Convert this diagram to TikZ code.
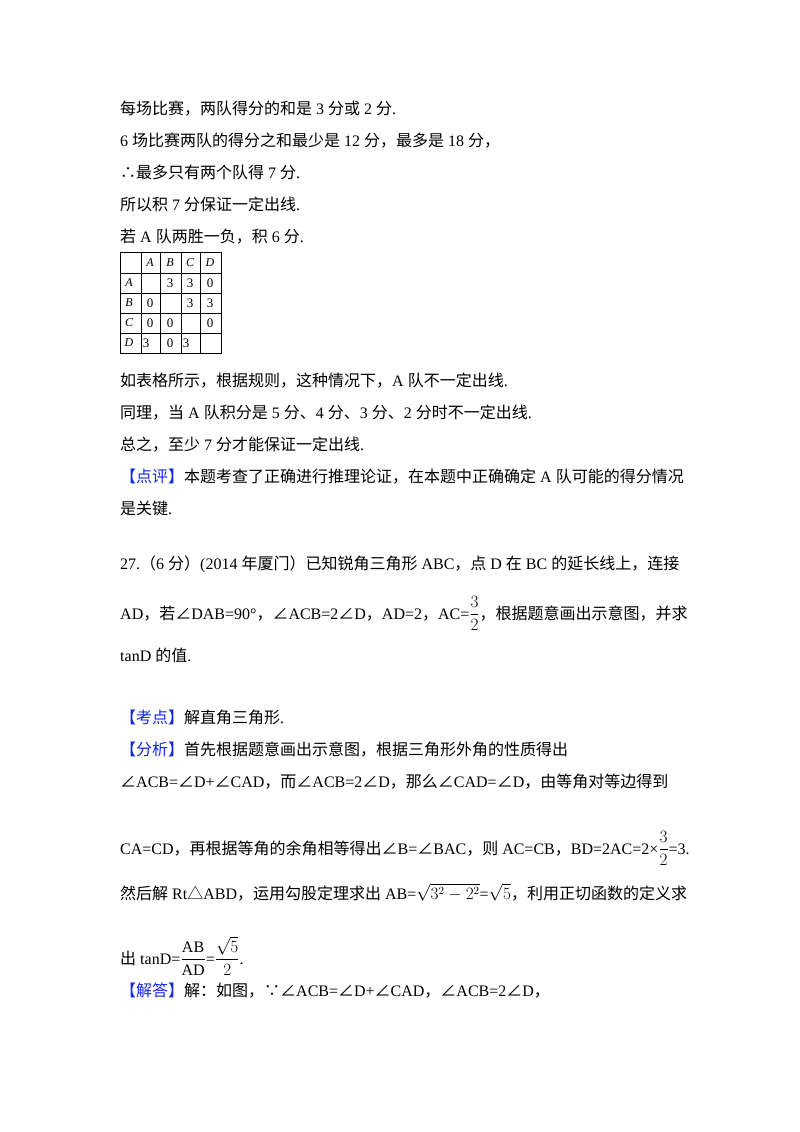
\documentclass[tikz,border=0pt]{standalone}
\usepackage{amsmath}
\usepackage{fontspec}
\setmainfont{Liberation Serif}
\newfontfamily\cjk{Noto Sans CJK SC}
\newcommand\C[1]{{\cjk #1}}
\newcommand\ang{{\cjk ∠}}
\newcommand\tri{{\cjk △}}
\definecolor{tagblue}{RGB}{20,40,230}
\begin{document}
\begin{tikzpicture}[x=1pt,y=-1pt,
  ln/.style={anchor=base west,inner sep=0pt,font=\fontsize{16}{19}\selectfont},
  cell/.style={inner sep=0pt,font=\fontsize{12}{14}\selectfont\itshape}]
\useasboundingbox (0,0) rectangle (800,1132);
\node[ln] (l1) at (120,114) {\C{每场比赛，两队得分的和是} 3 \C{分或} 2 \C{分}.};
\node[ln] (l2) at (120,146) {6 \C{场比赛两队的得分之和最少是} 12 \C{分，最多是} 18 \C{分，}};
\node[ln] (l3) at (120,178) {\C{∴最多只有两个队得} 7 \C{分}.};
\node[ln] (l4) at (120,210) {\C{所以积} 7 \C{分保证一定出线}.};
\node[ln] (l5) at (120,242) {\C{若} A \C{队两胜一负，积} 6 \C{分}.};
% table
\draw[line width=0.6pt] (120,252) rectangle (221,353);
\foreach \x in {141,160,181,200} \draw[line width=0.6pt] (\x,252) -- (\x,353);
\foreach \y in {273,293,313,333} \draw[line width=0.6pt] (120,\y) -- (221,\y);
\node[cell] (hA) at (150,263) {A}; \node[cell] (hB) at (170,263) {B};
\node[cell] (hC) at (190,263) {C}; \node[cell] (hD) at (210,263) {D};
\node[cell] (rA) at (129,283) {A}; \node[cell] (rB) at (129,303) {B};
\node[cell] (rC) at (129,323) {C}; \node[cell] (rD) at (129,343) {D};
\begin{scope}[every node/.style={inner sep=0pt,font=\fontsize{13}{14}\selectfont}]
\node (a2) at (170,283) {3}; \node (a3) at (190,283) {3}; \node (a4) at (210,283) {0};
\node (b1) at (150,303) {0}; \node (b3) at (190,303) {3}; \node (b4) at (210,303) {3};
\node (c1) at (150,323) {0}; \node (c2) at (170,323) {0}; \node (c4) at (210,323) {0};
\node (d1) at (146,343) {3}; \node (d2) at (170,343) {0}; \node (d3) at (186,343) {3};
\end{scope}
\node[ln] (l6) at (120,386) {\C{如表格所示，根据规则，这种情况下，}A \C{队不一定出线}.};
\node[ln] (l7) at (120,418) {\C{同理，当} A \C{队积分是} 5 \C{分、}4 \C{分、}3 \C{分、}2 \C{分时不一定出线}.};
\node[ln] (l8) at (120,450) {\C{总之，至少} 7 \C{分才能保证一定出线}.};
\node[ln] (l9) at (120,482) {{\color{tagblue}\C{【点评】}}\C{本题考查了正确进行推理论证，在本题中正确确定} A \C{队可能的得分情况}};
\node[ln] (l10) at (120,514) {\C{是关键}.};
\node[ln] (l11) at (120,569) {27.\C{（}6 \C{分）}(2014 \C{年厦门）已知锐角三角形} ABC\C{，点} D \C{在} BC \C{的延长线上，连接}};
\node[ln] (l12) at (120,619) {AD\C{，若}\ang DAB=90°\C{，}\ang ACB=2\ang D\C{，}AD=2\C{，}AC=$\dfrac{3}{2}$\C{，根据题意画出示意图，并求}};
\node[ln] (l13) at (120,661) {tanD \C{的值}.};
\node[ln] (l14) at (120,723) {{\color{tagblue}\C{【考点】}}\C{解直角三角形}.};
\node[ln] (l15) at (120,755) {{\color{tagblue}\C{【分析】}}\C{首先根据题意画出示意图，根据三角形外角的性质得出}};
\node[ln] (l16) at (120,787) {\ang ACB=\ang D+\ang CAD\C{，而}\ang ACB=2\ang D\C{，那么}\ang CAD=\ang D\C{，由等角对等边得到}};
\node[ln] (l17) at (120,854) {CA=CD\C{，再根据等角的余角相等得出}\ang B=\ang BAC\C{，则} AC=CB\C{，}BD=2AC=2×$\dfrac{3}{2}$=3.};
\node[ln] (l18) at (120,899) {\C{然后解} Rt\tri ABD\C{，运用勾股定理求出} AB=$\sqrt{3^2-2^2}$=$\sqrt{5}$\C{，利用正切函数的定义求}};
\node[ln] (l19) at (120,964) {\C{出} tanD=$\dfrac{\mathrm{AB}}{\mathrm{AD}}$=$\dfrac{\sqrt{5}}{2}$.};
\node[ln] (l20) at (120,996) {{\color{tagblue}\C{【解答】}}\C{解：如图，∵}\ang ACB=\ang D+\ang CAD\C{，}\ang ACB=2\ang D\C{，}};
\end{tikzpicture}
\end{document}
